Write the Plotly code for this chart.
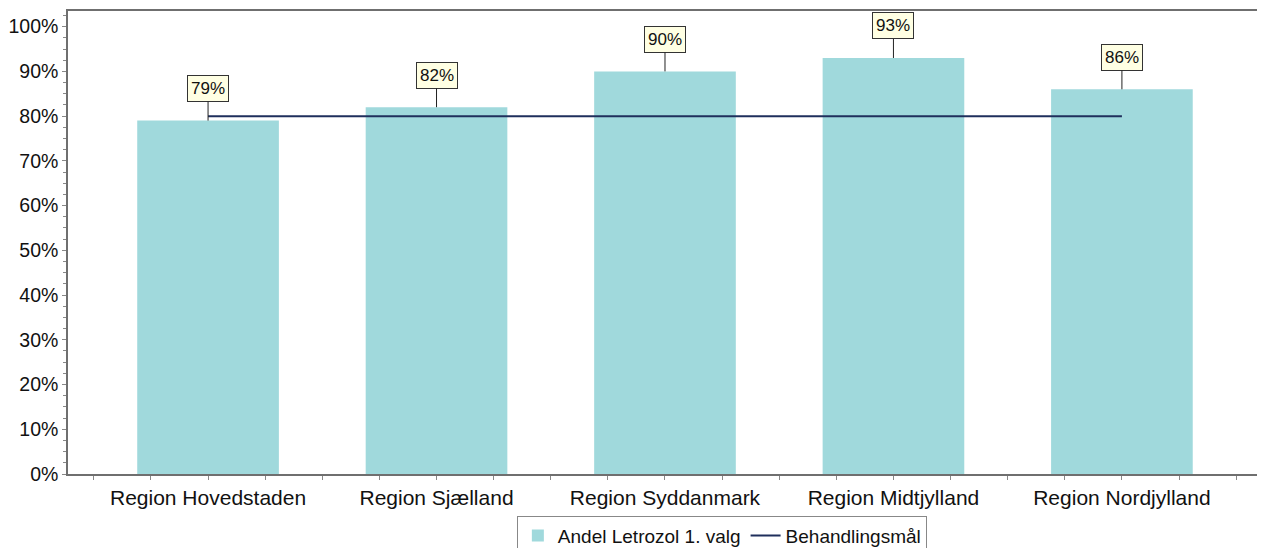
import plotly.graph_objects as go

categories = ["Region Hovedstaden", "Region Sjælland", "Region Syddanmark", "Region Midtjylland", "Region Nordjylland"]
andel = [79, 82, 90, 93, 86]
labels = ["79%", "82%", "90%", "93%", "86%"]
maal = [80, 80, 80, 80, 80]
y_ticks = [0, 10, 20, 30, 40, 50, 60, 70, 80, 90, 100]

xs = list(range(len(categories)))
FONT = "Liberation Sans, Arial, sans-serif"

fig = go.Figure()
fig.add_trace(go.Bar(
    x=xs, y=andel, name="Andel Letrozol 1. valg",
    marker=dict(color="#A0D9DC", line=dict(width=0)),
    width=0.62,
))
fig.add_trace(go.Scatter(
    x=xs, y=maal, name="Behandlingsmål", mode="lines",
    line=dict(color="#1F2F5C", width=2),
))

for x, v, t in zip(xs, andel, labels):
    fig.add_annotation(
        x=x, y=v, text=t, showarrow=True, arrowhead=0, arrowwidth=1,
        arrowcolor="#222", ax=0, ay=-32, bgcolor="#FFFFE3",
        bordercolor="#333", borderwidth=1, borderpad=3,
        font=dict(family=FONT, size=17, color="#111"),
    )

fig.update_layout(
    width=1257, height=540,
    margin=dict(l=60, r=6, t=3, b=74, autoexpand=False),
    paper_bgcolor="white", plot_bgcolor="white",
    font=dict(family=FONT, size=20, color="#111"),
    showlegend=True,
    legend=dict(
        orientation="h", x=0.549, xanchor="center",
        yref="container", y=0.06, yanchor="top",
        bordercolor="#888", borderwidth=1, font=dict(size=19),
        tracegroupgap=0,
    ),
)
fig.update_xaxes(
    range=[-0.613, 4.6], tickvals=xs, ticktext=categories,
    showgrid=False, zeroline=False, automargin=False,
    showline=True, linecolor="#6f6f6f", linewidth=1.5, mirror=True,
    ticks="outside", ticklen=4, tickcolor="#888",
    minor=dict(dtick=0.25, tick0=0, ticks="outside", ticklen=4, tickcolor="#888"),
    tickfont=dict(size=21),
)
fig.update_yaxes(
    range=[0, 103.5], tickvals=y_ticks, ticktext=[f"{v}%" for v in y_ticks],
    showgrid=False, zeroline=False, automargin=False,
    showline=True, linecolor="#6f6f6f", linewidth=1.5, mirror=True,
    ticks="outside", ticklen=4, tickcolor="#888",
    minor=dict(dtick=2.5, tick0=0, ticks="outside", ticklen=3, tickcolor="#888"),
    tickfont=dict(size=19.5),
)

fig.write_html("out.html")
